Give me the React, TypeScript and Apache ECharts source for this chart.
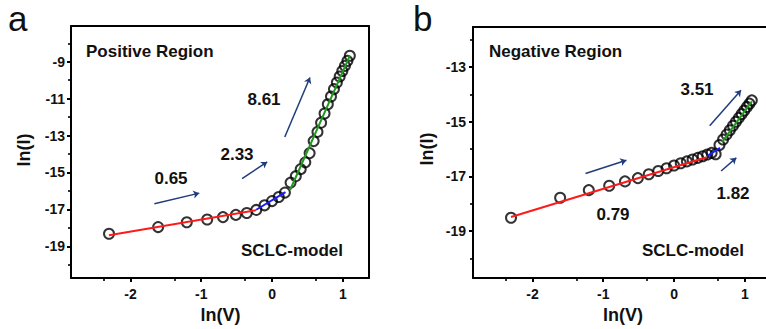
import React, { useEffect, useRef } from "react";
import * as echarts from "echarts";

// ln(V) values shared by both panels
const lnV = [-2.303, -1.609, -1.204, -0.916, -0.693, -0.511, -0.357, -0.223, -0.105, 0, 0.095, 0.182, 0.262, 0.336, 0.405, 0.47, 0.531, 0.588, 0.642, 0.693, 0.742, 0.788, 0.833, 0.875, 0.916, 0.956, 0.993, 1.03, 1.065, 1.099];
// panel a: positive region ln(I)
const lnIPos = [-18.32, -17.96, -17.7, -17.55, -17.42, -17.3, -17.2, -17.03, -16.78, -16.55, -16.33, -16.09, -15.55, -15.2, -14.82, -14.45, -13.95, -13.3, -12.8, -12.3, -11.8, -11.3, -10.88, -10.48, -10.12, -9.8, -9.5, -9.22, -8.95, -8.67];
// panel b: negative region ln(I)
const lnINeg = [-18.51, -17.78, -17.5, -17.34, -17.18, -17.06, -16.92, -16.8, -16.7, -16.6, -16.52, -16.45, -16.38, -16.32, -16.26, -16.2, -16.14, -16.19, -15.85, -15.65, -15.47, -15.31, -15.15, -15.0, -14.86, -14.72, -14.59, -14.46, -14.34, -14.22];

// fitted segments
const fitRedA = [[-2.303, -18.4], [-0.223, -17.04]];
const fitBlueA = [[-0.223, -17.02], [0.19, -16.06]];
const fitGreenA = [[0.255, -15.95], [1.1, -8.67]];
const fitRedB = [[-2.303, -18.48], [0.46, -16.3]];
const fitBlueB = [[0.47, -16.26], [0.65, -15.95]];
const fitGreenB = [[0.68, -15.74], [1.1, -14.26]];

// arrows (data coordinates)
const arrowsA = [
  [[-1.662, -16.69], [-1.028, -16.12]],
  [[-0.423, -15.33], [-0.068, -14.43]],
  [[0.18, -13.08], [0.536, -9.85]],
];
const arrowsB = [
  [[-1.25, -16.89], [-0.673, -16.41]],
  [[0.504, -15.15], [0.946, -13.85]],
  [[0.665, -16.8], [0.88, -16.32]],
];

// axis ranges and ticks
const xMin = -2.84;
const xMax = 1.37;
const yRangeA = [-20.72, -7.06];
const yRangeB = [-20.71, -11.54];
const xMajor = [-2, -1, 0, 1];
const xMinor = [-2.38, -1.38, -0.38, 0.62];
const yMajorA = [-19, -17, -15, -13, -11, -9];
const yMinorA = [-20, -18, -16, -14, -12, -10, -8];
const yMajorB = [-19, -17, -15, -13];
const yMinorB = [-20, -18, -16, -14, -12];

const FONT = "'Liberation Sans', Arial, Helvetica, sans-serif";
const INK = "#111111";
const NAVY = "#1f3c7c";

function pairs(xs: number[], ys: number[]) {
  return xs.map((x, i) => [x, ys[i]]);
}

function lineOn() {
  return { show: true, onZero: false, lineStyle: { color: "#000000", width: 2 } };
}
function lineOff() {
  return { show: false, onZero: false };
}
function labelStyle(margin: number, vals: number[]) {
  return { show: true, color: INK, fontSize: 14, fontWeight: "bold", fontFamily: FONT, margin, customValues: vals };
}
function majorTick(vals: number[]) {
  return { show: true, length: 4, lineStyle: { color: "#000000", width: 2 }, customValues: vals };
}
function minorTick(vals: number[]) {
  return { show: true, length: 3, lineStyle: { color: "#000000", width: 1.6 }, customValues: vals };
}

function mkX(gridIndex: number) {
  return [
    {
      type: "value", gridIndex, position: "bottom", min: xMin, max: xMax,
      axisLine: lineOn(), splitLine: { show: false },
      axisTick: majorTick(xMajor), axisLabel: labelStyle(9, xMajor),
    },
    {
      type: "value", gridIndex, position: "bottom", min: xMin, max: xMax,
      axisLine: lineOff(), splitLine: { show: false },
      axisTick: minorTick(xMinor), axisLabel: { show: false },
    },
    {
      type: "value", gridIndex, position: "top", min: xMin, max: xMax,
      axisLine: lineOn(), splitLine: { show: false },
      axisTick: { show: false }, axisLabel: { show: false },
    },
  ];
}
function mkY(gridIndex: number, range: number[], major: number[], minor: number[], margin: number) {
  return [
    {
      type: "value", gridIndex, position: "left", min: range[0], max: range[1],
      axisLine: lineOn(), splitLine: { show: false },
      axisTick: majorTick(major), axisLabel: labelStyle(margin, major),
    },
    {
      type: "value", gridIndex, position: "left", min: range[0], max: range[1],
      axisLine: lineOff(), splitLine: { show: false },
      axisTick: minorTick(minor), axisLabel: { show: false },
    },
    {
      type: "value", gridIndex, position: "right", min: range[0], max: range[1],
      axisLine: lineOn(), splitLine: { show: false },
      axisTick: { show: false }, axisLabel: { show: false },
    },
  ];
}

function scatter(xi: number, yi: number, ys: number[]) {
  return {
    type: "scatter", xAxisIndex: xi, yAxisIndex: yi, data: pairs(lnV, ys),
    symbol: "circle", symbolSize: 10, z: 3,
    itemStyle: { color: "transparent", borderColor: "#000000", borderWidth: 2 },
  };
}
function fit(xi: number, yi: number, d: number[][], color: string) {
  return {
    type: "line", xAxisIndex: xi, yAxisIndex: yi, data: d, showSymbol: false, symbol: "none", z: 4,
    lineStyle: { color, width: 2 },
  };
}
function arrows(xi: number, yi: number, d: number[][][]) {
  return {
    type: "lines", coordinateSystem: "cartesian2d", xAxisIndex: xi, yAxisIndex: yi, z: 5,
    symbol: ["none", "arrow"], symbolSize: 6,
    lineStyle: { color: NAVY, width: 1.5, opacity: 1 },
    data: d.map((c) => ({ coords: c })),
  };
}
function txt(text: string, x: number, y: number, size: number, align = "center", bold = true, rotation = 0) {
  return {
    type: "text", x, y, rotation, silent: true,
    style: { text, fill: INK, font: `${bold ? "bold " : ""}${size}px ${FONT}`, align, verticalAlign: "middle" },
  };
}

export default function App() {
  const ref = useRef<HTMLDivElement>(null);
  useEffect(() => {
    if (!ref.current) return;
    const chart = echarts.init(ref.current, null, { renderer: "svg" });
    chart.setOption({
      animation: false,
      backgroundColor: "#ffffff",
      grid: [
        { left: 71, top: 26, width: 298, height: 252, outerBoundsMode: "none" },
        { left: 473, top: 27, width: 298, height: 251, outerBoundsMode: "none" },
      ],
      xAxis: [...mkX(0), ...mkX(1)],
      yAxis: [...mkY(0, yRangeA, yMajorA, yMinorA, 6), ...mkY(1, yRangeB, yMajorB, yMinorB, 7)],
      series: [
        scatter(0, 0, lnIPos),
        fit(0, 0, fitRedA, "#ff1a1a"),
        fit(0, 0, fitBlueA, "#1a1aff"),
        fit(0, 0, fitGreenA, "#1f9a1f"),
        arrows(0, 0, arrowsA),
        scatter(3, 3, lnINeg),
        fit(3, 3, fitRedB, "#ff1a1a"),
        fit(3, 3, fitBlueB, "#1a1aff"),
        fit(3, 3, fitGreenB, "#1f9a1f"),
        arrows(3, 3, arrowsB),
      ],
      graphic: [
        txt("a", 8, 18.5, 35, "left", false),
        txt("b", 413, 18.5, 35, "left", false),
        txt("ln(I)", 24, 150, 18, "center", true, Math.PI / 2),
        txt("ln(I)", 426.5, 149, 18, "center", true, Math.PI / 2),
        txt("ln(V)", 220.5, 315, 18),
        txt("ln(V)", 623, 315, 18),
        txt("Positive Region", 86, 51, 17, "left"),
        txt("0.65", 171, 178.5, 17),
        txt("2.33", 237, 154.5, 17),
        txt("8.61", 264, 99.5, 17),
        txt("SCLC-model", 292, 250.5, 17),
        txt("Negative Region", 489, 51, 17, "left"),
        txt("3.51", 697, 89.5, 17),
        txt("1.82", 733, 193.5, 17),
        txt("0.79", 613, 214.5, 17),
        txt("SCLC-model", 693, 250.5, 17),
      ],
    } as any);
    return () => chart.dispose();
  }, []);

  return <div ref={ref} style={{ position: "absolute", left: 0, top: 0, width: 766, height: 329 }} />;
}
